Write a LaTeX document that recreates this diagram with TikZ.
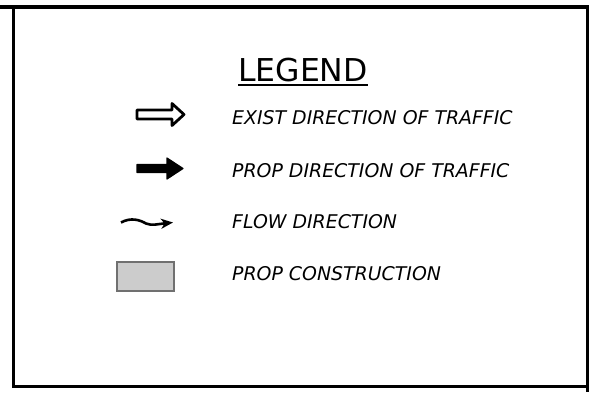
\documentclass[tikz,border=0pt]{standalone}
\usepackage{fontspec}
\setmainfont{DejaVu Sans}
\usetikzlibrary{arrows.meta}
\definecolor{boxfill}{HTML}{CCCCCC}
\definecolor{boxline}{HTML}{707070}
\tikzset{
  frameline/.style={line width=3.5pt, line cap=rect},
  legtext/.style={anchor=base west, inner sep=0pt, font=\fontsize{18.9}{20}\selectfont\itshape},
  legtitle/.style={anchor=base west, inner sep=0pt, font=\fontsize{31.5}{33}\selectfont},
  arrowshape/.style={line width=2.8pt, line join=round},
}
\begin{document}
\begin{tikzpicture}[x=1pt,y=-1pt]
\useasboundingbox (0,0) rectangle (589,392);
% frame
\draw[line width=4.5pt] (0,7) -- (589,7);
\draw[frameline] (13.5,9) -- (13.5,386.5);
\draw[frameline] (13.5,386.5) -- (587.5,386.5);
\draw[line width=3.5pt] (587.5,5) -- (587.5,392);
% title
\node[legtitle] (legend) at (238,81.5) {LEGEND};
\draw[line width=2.2pt] ([yshift=-3.5pt]legend.base west) -- ([yshift=-3.5pt]legend.base east);
% symbols
\draw[arrowshape] (137,110) -- (172,110) -- (172,103.5) -- (184,114.5) -- (172,125.5) -- (172,119) -- (137,119) -- cycle;
\fill[draw, line width=1.2pt, line join=round] (137,164.5) -- (167,164.5) -- (167,158) -- (183,168.5) -- (167,179) -- (167,172.5) -- (137,172.5) -- cycle;
\draw[line width=2.6pt, -{Stealth[length=12pt,width=10pt,inset=3.5pt]}] (121,222.5) .. controls (131,217) and (140,220) .. (146,223.5) .. controls (152,226) and (158,224) .. (173,222.5);
\draw[line width=2.4pt, draw=boxline, fill=boxfill] (117,262) rectangle (174,291);
% texts
\node[legtext] (t1) at (232,124) {EXIST DIRECTION OF TRAFFIC};
\node[legtext] (t2) at (232,177.5) {PROP DIRECTION OF TRAFFIC};
\node[legtext] (t3) at (232,228.5) {FLOW DIRECTION};
\node[legtext] (t4) at (232,280.5) {PROP CONSTRUCTION};
\end{tikzpicture}
\end{document}
